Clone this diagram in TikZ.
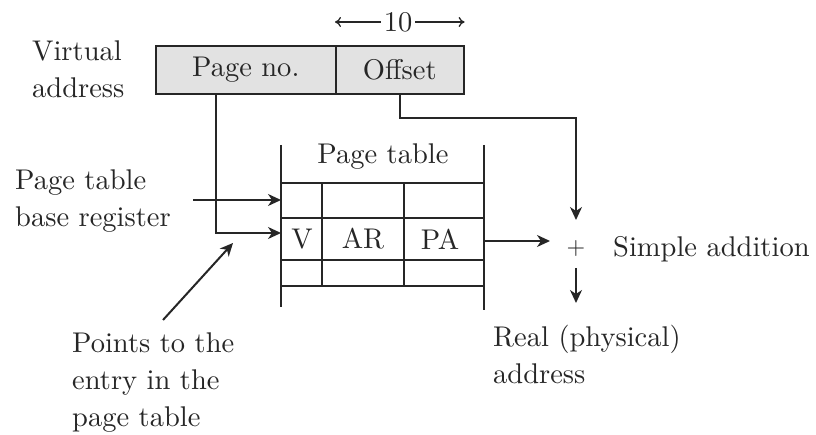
\documentclass[tikz,border=0pt]{standalone}
\usepackage{fontspec}
\setmainfont{lmroman10-regular.otf}
\usetikzlibrary{arrows.meta}
\definecolor{ink}{HTML}{262626}
\definecolor{boxfill}{HTML}{E2E2E2}
\begin{document}
\begin{tikzpicture}[x=1pt,y=-1pt, font=\fontsize{28.5}{37}\selectfont, text=ink,
  lbl/.style={inner sep=0pt, align=left},
  ln/.style={draw=ink, line width=1.6pt},
  tline/.style={draw=ink, line width=1.3pt},
  arr/.style={draw=ink, line width=2pt, -{Stealth[length=13pt,width=12pt,inset=4pt]}},
  tarr/.style={draw=ink, line width=1.3pt, -{To[length=6pt,width=10pt]}},
  field/.style={ln, fill=boxfill, minimum height=48pt, inner sep=0pt, anchor=north west}]
\useasboundingbox (0,0) rectangle (816,435);
% virtual address
\node[field, minimum width=180pt] (page) at (155,45) {Page no.};
\node[field, minimum width=128pt] (off) at (335,45) {Offset};
\node[lbl, anchor=base west] (va) at (32,98) {Virtual\\address};
\node[inner sep=3pt] (ten) at (398,22) {10};
\draw[tarr] (ten.west) -- (ten.west -| off.west);
\draw[tarr] (ten.east) -- (ten.east -| off.east);
% page table
\coordinate (tl) at (281,145);
\coordinate (tr) at (484,145);
\draw[tline] (tl) -- (281,307);
\draw[tline] (tr) -- (484,310);
\foreach \y in {183,218,260,286} \draw[tline] (281,\y) -- (484,\y);
\foreach \x in {322,404} \draw[tline] (\x,183) -- (\x,286);
\node (pt) at (383,157) {Page table};
\node (v) at (302,239) {V};
\node (ar) at (363,239) {AR};
\node (pa) at (440,239) {PA};
% labels
\node[lbl, anchor=base west] (ptbr) at (15,227) {Page table\\base register};
\node[lbl, anchor=base west] (pts) at (72,426) {Points to the\\entry in the\\page table};
\node[lbl, anchor=base west] (sa) at (613,257) {Simple addition};
\node[lbl, anchor=base west] (real) at (493,383) {Real (physical)\\address};
\node[inner sep=0pt, font=\fontsize{24}{26}\selectfont] (plus) at (576,249) {+};
% connectors
\coordinate (entry) at (281,233);
\draw[arr] ([xshift=-30pt]page.south) |- (entry);
\coordinate (brs) at (193,200);
\coordinate (brt) at (281,200);
\draw[arr] (brs) -- (brt);
\coordinate (addin) at (576,220);
\draw[arr] (off.south) |- (576,118) -- (addin);
\coordinate (pas) at (484,241);
\coordinate (pae) at (550,241);
\draw[arr] (pas) -- (pae);
\coordinate (ao1) at (576,268);
\coordinate (ao2) at (576,303);
\draw[arr] (ao1) -- (ao2);
\coordinate (pfrom) at (163,320);
\coordinate (pto) at (233,243);
\draw[arr] (pfrom) -- (pto);
\end{tikzpicture}
\end{document}
